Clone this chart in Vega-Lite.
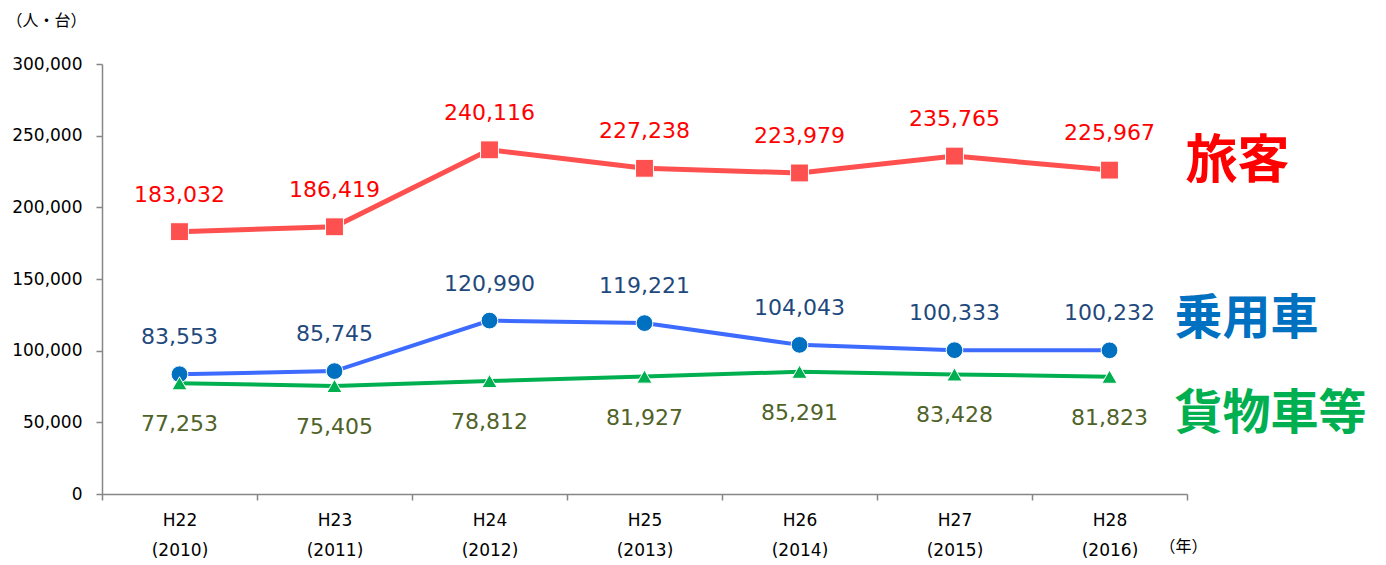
{
  "$schema": "https://vega.github.io/schema/vega-lite/v6.json",
  "width": 1085,
  "height": 430,
  "autosize": {"type": "none"},
  "padding": {"left": 102, "top": 64, "right": 199, "bottom": 71},
  "background": "white",
  "config": {"view": {"stroke": null}, "font": "DejaVu Sans"},
  "datasets": {
    "main": [
      {"year": "H22\n(2010)", "series": "旅客", "value": 183032},
      {"year": "H23\n(2011)", "series": "旅客", "value": 186419},
      {"year": "H24\n(2012)", "series": "旅客", "value": 240116},
      {"year": "H25\n(2013)", "series": "旅客", "value": 227238},
      {"year": "H26\n(2014)", "series": "旅客", "value": 223979},
      {"year": "H27\n(2015)", "series": "旅客", "value": 235765},
      {"year": "H28\n(2016)", "series": "旅客", "value": 225967},
      {"year": "H22\n(2010)", "series": "乗用車", "value": 83553},
      {"year": "H23\n(2011)", "series": "乗用車", "value": 85745},
      {"year": "H24\n(2012)", "series": "乗用車", "value": 120990},
      {"year": "H25\n(2013)", "series": "乗用車", "value": 119221},
      {"year": "H26\n(2014)", "series": "乗用車", "value": 104043},
      {"year": "H27\n(2015)", "series": "乗用車", "value": 100333},
      {"year": "H28\n(2016)", "series": "乗用車", "value": 100232},
      {"year": "H22\n(2010)", "series": "貨物車等", "value": 77253},
      {"year": "H23\n(2011)", "series": "貨物車等", "value": 75405},
      {"year": "H24\n(2012)", "series": "貨物車等", "value": 78812},
      {"year": "H25\n(2013)", "series": "貨物車等", "value": 81927},
      {"year": "H26\n(2014)", "series": "貨物車等", "value": 85291},
      {"year": "H27\n(2015)", "series": "貨物車等", "value": 83428},
      {"year": "H28\n(2016)", "series": "貨物車等", "value": 81823}
    ],
    "names": [
      {"year": "H28\n(2016)", "series": "旅客", "value": 231600},
      {"year": "H28\n(2016)", "series": "乗用車", "value": 121400},
      {"year": "H28\n(2016)", "series": "貨物車等", "value": 55100}
    ]
  },
  "encoding": {
    "x": {
      "field": "year", "type": "nominal", "sort": null,
      "scale": {"paddingInner": 0, "paddingOuter": 0},
      "axis": {
        "title": "（年）", "titleX": 1081, "titleY": 52, "titleAngle": 0,
        "titleAlign": "center", "titleBaseline": "middle",
        "titleFont": "Noto Sans CJK JP", "titleFontSize": 16, "titleFontWeight": "normal", "titleColor": "#000000",
        "labelAngle": 0, "labelExpr": "split(datum.label, '\\n')",
        "labelLineHeight": 30, "labelBaseline": "top", "labelPadding": 12,
        "labelFontSize": 17, "labelColor": "#000000",
        "tickBand": "extent", "tickSize": 6, "tickColor": "#868686",
        "domainColor": "#868686", "domainWidth": 1.5, "tickWidth": 1.5, "grid": false
      }
    },
    "y": {
      "field": "value", "type": "quantitative",
      "scale": {"domain": [0, 300000]},
      "axis": {
        "title": "（人・台）", "titleX": -96, "titleY": -44, "titleAngle": 0,
        "titleAlign": "left", "titleBaseline": "middle",
        "titleFont": "Noto Sans CJK JP", "titleFontSize": 16, "titleFontWeight": "normal", "titleColor": "#000000",
        "values": [0, 50000, 100000, 150000, 200000, 250000, 300000],
        "format": ",.0f", "labelFontSize": 17, "labelColor": "#000000", "labelPadding": 14,
        "tickSize": 6, "tickColor": "#868686", "tickWidth": 1.5,
        "domainColor": "#868686", "domainWidth": 1.5, "grid": false
      }
    }
  },
  "layer": [
    {
      "data": {"name": "main"},
      "transform": [{"filter": "datum.series === '旅客'"}],
      "mark": {"type": "line", "color": "#FF5050", "strokeWidth": 5},
      "encoding": {}
    },
    {
      "data": {"name": "main"},
      "transform": [{"filter": "datum.series === '乗用車'"}],
      "mark": {"type": "line", "color": "#3D6BFF", "strokeWidth": 4},
      "encoding": {}
    },
    {
      "data": {"name": "main"},
      "transform": [{"filter": "datum.series === '貨物車等'"}],
      "mark": {"type": "line", "color": "#00B050", "strokeWidth": 4},
      "encoding": {}
    },
    {
      "data": {"name": "main"},
      "transform": [{"filter": "datum.series === '旅客'"}],
      "mark": {"type": "point", "shape": "square", "filled": true, "color": "#FF5050", "size": 320, "opacity": 1, "stroke": "white", "strokeWidth": 1}
    },
    {
      "data": {"name": "main"},
      "transform": [{"filter": "datum.series === '乗用車'"}],
      "mark": {"type": "point", "shape": "circle", "filled": true, "color": "#0070C0", "size": 280, "opacity": 1, "stroke": "white", "strokeWidth": 1}
    },
    {
      "data": {"name": "main"},
      "transform": [{"filter": "datum.series === '貨物車等'"}],
      "mark": {"type": "point", "shape": "triangle-up", "filled": true, "color": "#00B050", "size": 230, "opacity": 1, "stroke": "white", "strokeWidth": 1}
    },
    {
      "data": {"name": "main"},
      "transform": [{"filter": "datum.series === '旅客'"}],
      "mark": {"type": "text", "color": "#FF0000", "fontSize": 22, "dy": -37, "baseline": "middle"},
      "encoding": {"text": {"field": "value", "type": "quantitative", "format": ","}}
    },
    {
      "data": {"name": "main"},
      "transform": [{"filter": "datum.series === '乗用車'"}],
      "mark": {"type": "text", "color": "#1F497D", "fontSize": 22, "dy": -37, "baseline": "middle"},
      "encoding": {"text": {"field": "value", "type": "quantitative", "format": ","}}
    },
    {
      "data": {"name": "main"},
      "transform": [{"filter": "datum.series === '貨物車等'"}],
      "mark": {"type": "text", "color": "#4F6228", "fontSize": 22, "dy": 41, "baseline": "middle"},
      "encoding": {"text": {"field": "value", "type": "quantitative", "format": ","}}
    },
    {
      "data": {"name": "names"},
      "transform": [{"filter": "datum.series === '旅客'"}],
      "mark": {"type": "text", "font": "Noto Sans CJK JP", "fontWeight": "bold", "fontSize": 52, "align": "left", "baseline": "middle", "dx": 76, "color": "#FF0000"},
      "encoding": {"text": {"field": "series"}}
    },
    {
      "data": {"name": "names"},
      "transform": [{"filter": "datum.series === '乗用車'"}],
      "mark": {"type": "text", "font": "Noto Sans CJK JP", "fontWeight": "bold", "fontSize": 48, "align": "left", "baseline": "middle", "dx": 65, "color": "#0070C0"},
      "encoding": {"text": {"field": "series"}}
    },
    {
      "data": {"name": "names"},
      "transform": [{"filter": "datum.series === '貨物車等'"}],
      "mark": {"type": "text", "font": "Noto Sans CJK JP", "fontWeight": "bold", "fontSize": 48, "align": "left", "baseline": "middle", "dx": 65, "color": "#00B050"},
      "encoding": {"text": {"field": "series"}}
    }
  ]
}
